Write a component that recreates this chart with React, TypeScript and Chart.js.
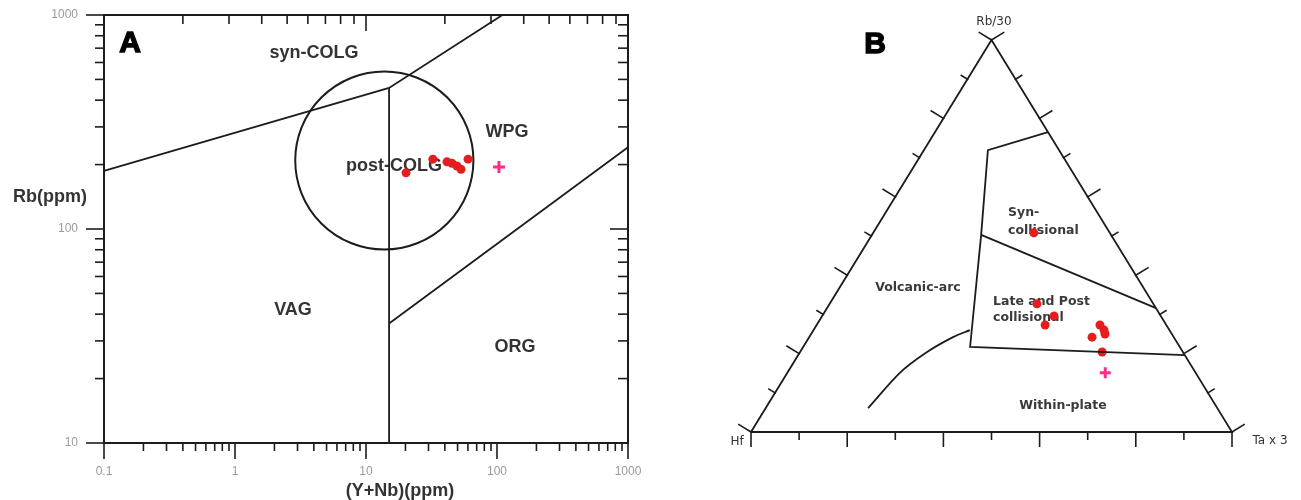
import React, { useEffect, useRef } from "react";
import { Chart, registerables } from "chart.js";
Chart.register(...registerables);

// ---------------- Panel A : Rb vs (Y+Nb), log-log ----------------
const sampleYNb = [20.2, 32.4, 41.5, 45.3, 49.5, 53.1, 60.1];
const sampleRb = [183, 212, 206, 203, 197, 190, 212];
const refYNb = [103.5];
const refRb = [195];

const synColgYNb = [0.1, 15, 110];
const synColgRb = [187, 456, 1000];
const vagOrgYNb = [15, 15];
const vagOrgRb = [456, 10];
const wpgOrgYNb = [15, 1000];
const wpgOrgRb = [36.2, 241];
const postColgCentre = [13.8, 209]; // (Y+Nb, Rb)
const postColgRadiusDecades = [0.68, 0.416]; // x, y half-widths in decades

const xTickLabelsA = ["0.1", "1", "10", "100", "1000"];
const yTickLabelsA = ["10", "100", "1000"];

// ---------------- Panel B : Hf - Rb/30 - Ta*3 ternary ----------------
const sampleRb30 = [0.508, 0.327, 0.296, 0.273, 0.273, 0.26, 0.25, 0.242, 0.204];
const sampleTa3 = [0.334, 0.431, 0.482, 0.475, 0.589, 0.604, 0.611, 0.588, 0.628];
const refRb30 = [0.151];
const refTa3 = [0.661];

const triangleRb30 = [0, 0, 1, 0]; // Hf -> Ta*3 -> Rb/30 -> Hf
const triangleTa3 = [0, 1, 0, 0];
const outerFieldRb30 = [0.765, 0.719, 0.503, 0.217, 0.196];
const outerFieldTa3 = [0.235, 0.133, 0.227, 0.347, 0.804];
const synLateRb30 = [0.503, 0.316];
const synLateTa3 = [0.227, 0.684];
const arcCurveRb30 = [0.26, 0.242, 0.204, 0.151, 0.061];
const arcCurveTa3 = [0.325, 0.299, 0.264, 0.234, 0.213];

const FONT = '"Liberation Sans", Arial, sans-serif';
const FONT_B = '"DejaVu Sans", sans-serif';
const INK = "#1c1c1c";
const TXT = "#333";
const RED = "#e41e1e";
const PINK = "#ff2d86";

const pairs = (xs: number[], ys: number[]) => xs.map((x, i) => ({ x, y: ys[i] }));
const tern = (rb: number[], ta: number[]) => rb.map((r, i) => ({ x: ta[i] + r / 2, y: r }));

const lineDs = (data: any[], tension = 0) => ({
  type: "scatter",
  data,
  showLine: true,
  borderColor: INK,
  borderWidth: 1.8,
  pointRadius: 0,
  pointHoverRadius: 0,
  tension,
  clip: false,
});

function drawLine(ctx: any, x1: number, y1: number, x2: number, y2: number) {
  ctx.beginPath();
  ctx.moveTo(x1, y1);
  ctx.lineTo(x2, y2);
  ctx.stroke();
}

function text(ctx: any, s: string, x: number, y: number, font: string, align = "center", color = TXT) {
  ctx.font = font;
  ctx.fillStyle = color;
  ctx.textAlign = align;
  ctx.textBaseline = "middle";
  ctx.fillText(s, x, y);
}

const panelAPlugin = {
  id: "panelA",
  beforeDatasetsDraw(chart: any) {
    const { ctx, chartArea: ca, scales } = chart;
    const xs = scales.x, ys = scales.y;
    ctx.save();
    ctx.strokeStyle = INK;
    ctx.lineWidth = 2;
    ctx.strokeRect(ca.left, ca.top, ca.right - ca.left, ca.bottom - ca.top);
    ctx.lineWidth = 1.6;
    for (let e = -1; e <= 3; e++) {
      for (let m = 1; m <= 9; m++) {
        const v = m * Math.pow(10, e);
        if (v < 0.0999 || v > 1000.1) continue;
        const px = xs.getPixelForValue(v);
        drawLine(ctx, px, ca.bottom, px, ca.bottom + (m === 1 ? 16 : 8));
        if (v >= 9.99) {
          const py = ys.getPixelForValue(v);
          drawLine(ctx, ca.left - (m === 1 ? 18 : 9), py, ca.left, py);
          drawLine(ctx, ca.right, py, ca.right - (m === 1 ? 18 : 10), py);
        }
        if (v >= 0.999 && v <= 100.1) {
          // the top frame carries a 1-100 log ruler stretched over the full width
          const tx = xs.getPixelForValue(0.1 * v * v);
          drawLine(ctx, tx, ca.top, tx, ca.top + (m === 1 ? 16 : 9));
        }
      }
    }
    // post-COLG circle
    const cx = xs.getPixelForValue(postColgCentre[0]);
    const cy = ys.getPixelForValue(postColgCentre[1]);
    const rx = xs.getPixelForValue(postColgCentre[0] * Math.pow(10, postColgRadiusDecades[0])) - cx;
    const ry = cy - ys.getPixelForValue(postColgCentre[1] * Math.pow(10, postColgRadiusDecades[1]));
    ctx.lineWidth = 2;
    ctx.beginPath();
    ctx.ellipse(cx, cy, rx, ry, 0, 0, Math.PI * 2);
    ctx.stroke();

    const f = `bold 18px ${FONT}`;
    ctx.strokeStyle = "#000";
    ctx.lineWidth = 1.4;
    ctx.font = `bold 30px ${FONT}`;
    ctx.textAlign = "center";
    ctx.textBaseline = "middle";
    ctx.strokeText("A", 130, 44);
    text(ctx, "A", 130, 44, `bold 30px ${FONT}`, "center", "#000");
    text(ctx, "syn-COLG", 314, 53, f);
    text(ctx, "WPG", 507, 132, f);
    text(ctx, "post-COLG", 394, 166, f);
    text(ctx, "VAG", 293, 310, f);
    text(ctx, "ORG", 515, 347, f);
    text(ctx, "Rb(ppm)", 50, 197, f);
    text(ctx, "(Y+Nb)(ppm)", 400, 491, f);
    ctx.restore();
  },
};

const OFFSET_B = 660;
const panelBPlugin = {
  id: "panelB",
  beforeDatasetsDraw(chart: any) {
    const { ctx, scales } = chart;
    const xs = scales.x, ys = scales.y;
    const P = (rb: number, ta: number) => ({ x: xs.getPixelForValue(ta + rb / 2), y: ys.getPixelForValue(rb) });
    const verts = [P(0, 0), P(0, 1), P(1, 0)]; // Hf, Ta, Rb
    const cen = { x: (verts[0].x + verts[1].x + verts[2].x) / 3, y: (verts[0].y + verts[1].y + verts[2].y) / 3 };
    ctx.save();
    ctx.strokeStyle = INK;
    ctx.lineWidth = 1.6;
    for (let s = 0; s < 3; s++) {
      const a = verts[s], b = verts[(s + 1) % 3];
      const dx = b.x - a.x, dy = b.y - a.y;
      const len = Math.hypot(dx, dy);
      let nx = -dy / len, ny = dx / len;
      const mx = (a.x + b.x) / 2, my = (a.y + b.y) / 2;
      if (nx * (mx - cen.x) + ny * (my - cen.y) < 0) { nx = -nx; ny = -ny; }
      for (let i = 0; i <= 10; i++) {
        const px = a.x + (dx * i) / 10, py = a.y + (dy * i) / 10;
        const L = i % 2 === 0 ? 15 : 8;
        drawLine(ctx, px - nx * 1, py - ny * 1, px + nx * L, py + ny * L);
      }
    }
    const o = OFFSET_B;
    ctx.strokeStyle = "#000";
    ctx.lineWidth = 1.4;
    ctx.font = `bold 30px ${FONT}`;
    ctx.textAlign = "center";
    ctx.textBaseline = "middle";
    ctx.strokeText("B", 875 - o, 45);
    text(ctx, "B", 875 - o, 45, `bold 30px ${FONT}`, "center", "#000");
    const small = `12px ${FONT_B}`;
    text(ctx, "Rb/30", 994 - o, 22, small);
    text(ctx, "Hf", 737 - o, 442, small);
    text(ctx, "Ta x 3", 1270 - o, 441, small);
    const fb = `bold 12.5px ${FONT_B}`;
    text(ctx, "Syn-", 1008 - o, 213, fb, "left", "#3a3a3a");
    text(ctx, "collisional", 1008 - o, 231, fb, "left", "#3a3a3a");
    text(ctx, "Volcanic-arc", 918 - o, 288, fb, "center", "#3a3a3a");
    text(ctx, "Late and Post", 993 - o, 302, fb, "left", "#3a3a3a");
    text(ctx, "collisional", 993 - o, 318, fb, "left", "#3a3a3a");
    text(ctx, "Within-plate", 1063 - o, 406, fb, "center", "#3a3a3a");
    ctx.restore();
  },
};

export default function App() {
  const refA = useRef<HTMLCanvasElement>(null);
  const refB = useRef<HTMLCanvasElement>(null);

  useEffect(() => {
    const chartA = new Chart(refA.current as HTMLCanvasElement, {
      type: "scatter",
      data: {
        datasets: [
          lineDs(pairs(synColgYNb, synColgRb)),
          lineDs(pairs(vagOrgYNb, vagOrgRb)),
          lineDs(pairs(wpgOrgYNb, wpgOrgRb)),
          {
            type: "scatter",
            data: pairs(sampleYNb, sampleRb),
            pointRadius: 4.5,
            pointBackgroundColor: RED,
            pointBorderWidth: 0,
            pointBorderColor: RED,
          },
          {
            type: "scatter",
            data: pairs(refYNb, refRb),
            pointStyle: "cross",
            pointRadius: 6,
            pointBorderWidth: 3,
            pointBorderColor: PINK,
            pointBackgroundColor: PINK,
          },
        ] as any,
      },
      options: {
        animation: false,
        responsive: false,
        devicePixelRatio: 1,
        events: [],
        layout: { padding: { left: 0, top: 15, right: 32, bottom: 0 } },
        plugins: { legend: { display: false }, tooltip: { enabled: false } },
        scales: {
          x: {
            type: "logarithmic",
            position: "bottom",
            min: 0.1,
            max: 1000,
            afterBuildTicks: (s: any) => {
              s.ticks = xTickLabelsA.map((l) => ({ value: parseFloat(l) }));
            },
            afterFit: (s: any) => {
              s.height = 57;
              s.paddingLeft = 0;
              s.paddingRight = 0;
              s.paddingTop = 0;
              s.paddingBottom = 0;
            },
            ticks: {
              callback: (_v: any, i: number) => xTickLabelsA[i],
              font: { family: FONT, size: 12 },
              color: "#9a9a9a",
              padding: 21,
              maxRotation: 0,
              autoSkip: false,
            },
            grid: { display: false, drawTicks: false },
            border: { display: false },
          },
          y: {
            type: "logarithmic",
            position: "left",
            min: 10,
            max: 1000,
            afterBuildTicks: (s: any) => {
              s.ticks = yTickLabelsA.map((l) => ({ value: parseFloat(l) }));
            },
            afterFit: (s: any) => {
              s.width = 104;
              s.paddingLeft = 0;
              s.paddingRight = 0;
              s.paddingTop = 0;
              s.paddingBottom = 0;
            },
            ticks: {
              callback: (_v: any, i: number) => yTickLabelsA[i],
              font: { family: FONT, size: 12 },
              color: "#9a9a9a",
              padding: 26,
              autoSkip: false,
            },
            grid: { display: false, drawTicks: false },
            border: { display: false },
          },
        },
      } as any,
      plugins: [panelAPlugin],
    } as any);

    const chartB = new Chart(refB.current as HTMLCanvasElement, {
      type: "scatter",
      data: {
        datasets: [
          lineDs(tern(triangleRb30, triangleTa3)),
          lineDs(tern(outerFieldRb30, outerFieldTa3)),
          lineDs(tern(synLateRb30, synLateTa3)),
          lineDs(tern(arcCurveRb30, arcCurveTa3), 0.3),
          {
            type: "scatter",
            data: tern(sampleRb30, sampleTa3),
            pointRadius: 4.5,
            pointBackgroundColor: RED,
            pointBorderWidth: 0,
            pointBorderColor: RED,
            clip: false,
          },
          {
            type: "scatter",
            data: tern(refRb30, refTa3),
            pointStyle: "cross",
            pointRadius: 5.5,
            pointBorderWidth: 3,
            pointBorderColor: PINK,
            pointBackgroundColor: PINK,
            clip: false,
          },
        ] as any,
      },
      options: {
        animation: false,
        responsive: false,
        devicePixelRatio: 1,
        events: [],
        layout: { padding: { left: 91, top: 40, right: 69, bottom: 68 } },
        plugins: { legend: { display: false }, tooltip: { enabled: false } },
        scales: {
          x: { type: "linear", min: 0, max: 1, display: false },
          y: { type: "linear", min: 0, max: 1, display: false },
        },
      } as any,
      plugins: [panelBPlugin],
    } as any);

    return () => {
      chartA.destroy();
      chartB.destroy();
    };
  }, []);

  return (
    <div style={{ position: "absolute", left: 0, top: 0, width: 1301, height: 500, background: "#fff" }}>
      <canvas ref={refA} width={660} height={500} style={{ position: "absolute", left: 0, top: 0 }} />
      <canvas ref={refB} width={641} height={500} style={{ position: "absolute", left: 660, top: 0 }} />
    </div>
  );
}
